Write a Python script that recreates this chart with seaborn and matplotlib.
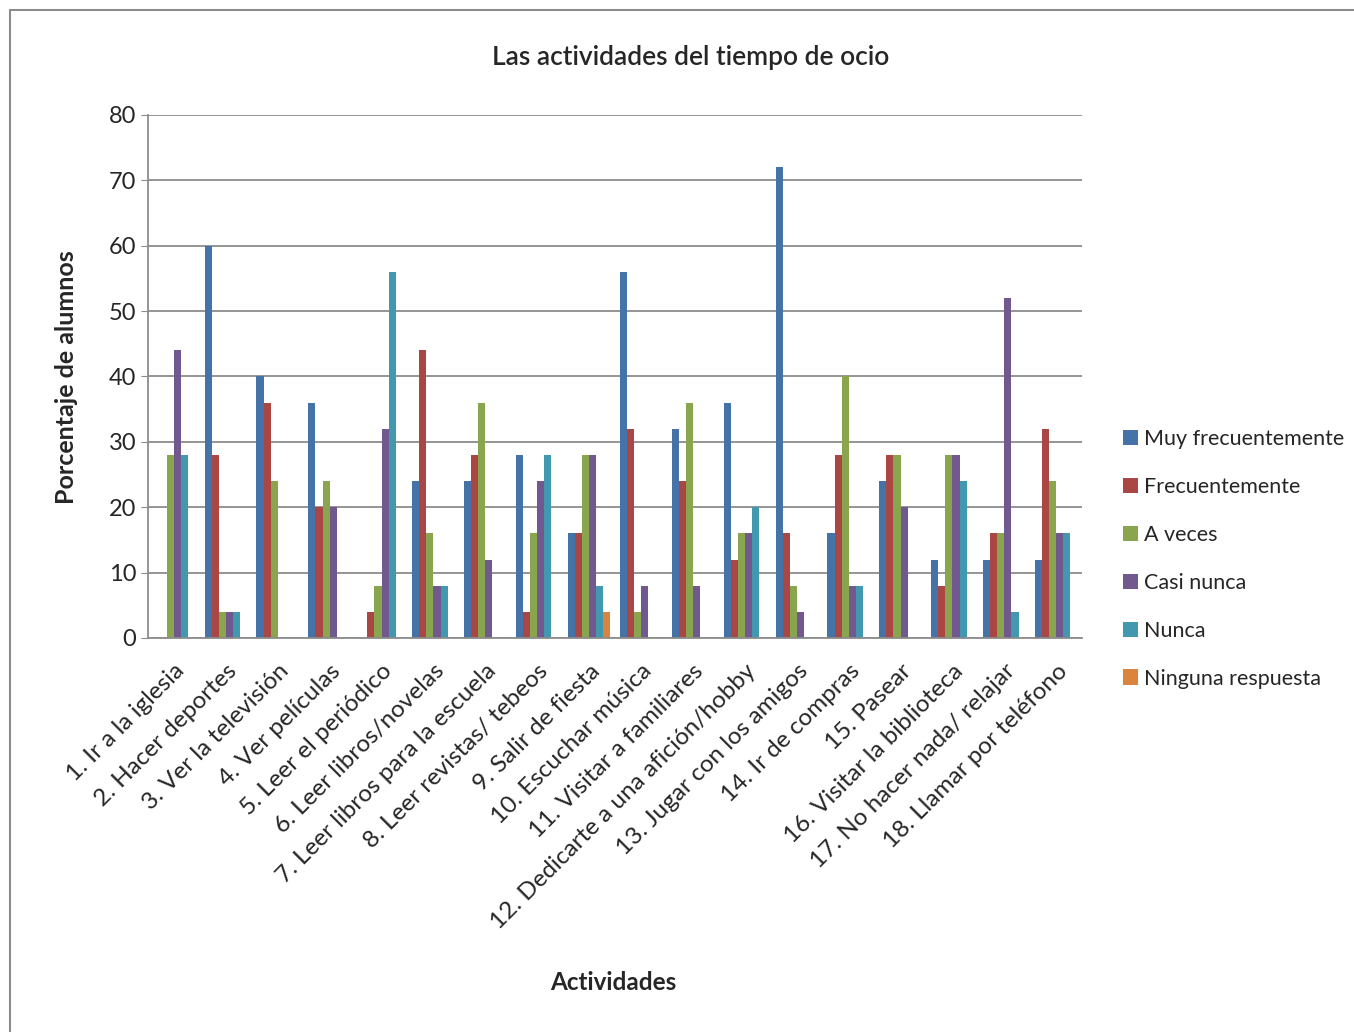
import matplotlib.pyplot as plt
import seaborn as sns
import pandas as pd
from matplotlib.lines import Line2D
from matplotlib.patches import Patch

actividades = ['1. Ir a la iglesia', '2. Hacer deportes', '3. Ver la televisión', '4. Ver películas',
               '5. Leer el periódico', '6. Leer libros/novelas', '7. Leer libros para la escuela',
               '8. Leer revistas/ tebeos', '9. Salir de fiesta', '10. Escuchar música',
               '11. Visitar a familiares', '12. Dedicarte a una afición/hobby',
               '13. Jugar con los amigos', '14. Ir de compras', '15. Pasear',
               '16. Visitar la biblioteca', '17. No hacer nada/ relajar', '18. Llamar por teléfono']

respuestas = ['Muy frecuentemente', 'Frecuentemente', 'A veces', 'Casi nunca', 'Nunca', 'Ninguna respuesta']

muy_frec = [0, 60, 40, 36, 0, 24, 24, 28, 16, 56, 32, 36, 72, 16, 24, 12, 12, 12]
frec = [0, 28, 36, 20, 4, 44, 28, 4, 16, 32, 24, 12, 16, 28, 28, 8, 16, 32]
a_veces = [28, 4, 24, 24, 8, 16, 36, 16, 28, 4, 36, 16, 8, 40, 28, 28, 16, 24]
casi_nunca = [44, 4, 0, 20, 32, 8, 12, 24, 28, 8, 8, 16, 4, 8, 20, 28, 52, 16]
nunca = [28, 4, 0, 0, 56, 8, 0, 28, 8, 0, 0, 20, 0, 8, 0, 24, 4, 16]
ninguna = [0, 0, 0, 0, 0, 0, 0, 0, 4, 0, 0, 0, 0, 0, 0, 0, 0, 0]

colores = ['#4572A7', '#AA4643', '#89A54E', '#71588F', '#4198AF', '#DB843D']

series = [muy_frec, frec, a_veces, casi_nunca, nunca, ninguna]
rows = []
for resp, vals in zip(respuestas, series):
    for act, v in zip(actividades, vals):
        rows.append({'Actividad': act, 'Respuesta': resp, 'Valor': v})
df = pd.DataFrame(rows)

sns.set_style("white")
plt.rcParams['font.family'] = ['Lato', 'DejaVu Sans']

fig = plt.figure(figsize=(13.54, 10.32), dpi=100)
ax = fig.add_axes([0.1093, 0.3818, 0.6900, 0.5068])

sns.barplot(data=df, x='Actividad', y='Valor', hue='Respuesta', order=actividades,
            hue_order=respuestas, palette=colores, width=0.82, saturation=1,
            edgecolor='none', ax=ax, legend=False)

ax.set_ylim(0, 80)
ax.set_xlim(-0.5, len(actividades) - 0.5)
ax.set_yticks(range(0, 81, 10))
ax.yaxis.grid(True, color='#8c8c8c', linewidth=1.3)
ax.set_axisbelow(True)
for s in ['top', 'right']:
    ax.spines[s].set_visible(False)
for s in ['left', 'bottom']:
    ax.spines[s].set_color('#8c8c8c')
    ax.spines[s].set_linewidth(1.3)
ax.tick_params(axis='y', labelsize=17, length=5, color='#8c8c8c', left=True)
ax.tick_params(axis='x', labelsize=17.5, length=0, pad=16)
ax.set_xticks(range(len(actividades)))
ax.set_xticklabels(actividades, rotation=45, ha='right', rotation_mode='anchor')
ax.set_xlabel('')
ax.set_ylabel('')

fig.text(0.51, 0.944, 'Las actividades del tiempo de ocio', ha='center', va='center',
         fontsize=19, fontweight='semibold')
fig.text(0.453, 0.048, 'Actividades', ha='center', va='center', fontsize=17.5, fontweight='bold')
fig.text(0.049, 0.635, 'Porcentaje de alumnos', ha='center', va='center', rotation=90,
         fontsize=18, fontweight='bold')

handles = [Patch(facecolor=c, edgecolor='none') for c in colores]
fig.legend(handles, respuestas, loc='upper left', bbox_to_anchor=(0.823, 0.593),
           frameon=False, fontsize=15.5, handlelength=0.7, handleheight=0.7,
           handletextpad=0.3, labelspacing=1.3, borderaxespad=0)

# marco exterior del grafico
fig.add_artist(Line2D([10 / 1354, 10 / 1354], [0, 1 - 10 / 1032], color='#8c8c8c', lw=1.5))
fig.add_artist(Line2D([10 / 1354, 1], [1 - 10 / 1032, 1 - 10 / 1032], color='#8c8c8c', lw=1.5))

fig.savefig('out.png', dpi=100)
